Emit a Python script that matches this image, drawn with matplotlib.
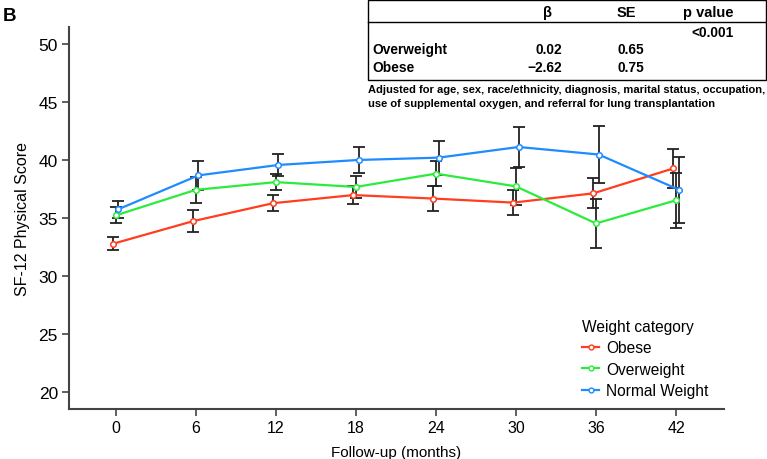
import matplotlib

matplotlib.use("Agg")
import matplotlib.pyplot as plt
from matplotlib.lines import Line2D
from matplotlib.patches import Rectangle
import numpy as np

plt.rcParams["font.family"] = ["Liberation Sans", "DejaVu Sans"]

# follow-up visits (months)
months = np.array([0, 6, 12, 18, 24, 30, 36, 42])

# mean SF-12 physical score and error half-widths per weight group
obese = [32.8, 34.75, 36.3, 37.0, 36.7, 36.35, 37.15, 39.3]
obese_err = [0.58, 0.92, 0.68, 0.8, 1.07, 1.06, 1.3, 1.67]
overweight = [35.25, 37.45, 38.12, 37.7, 38.85, 37.75, 34.55, 36.55]
overweight_err = [0.7, 1.1, 0.68, 0.98, 1.08, 1.62, 2.13, 2.35]
normal = [35.78, 38.7, 39.6, 40.03, 40.23, 41.15, 40.5, 37.47]
normal_err = [0.75, 1.27, 0.94, 1.15, 1.47, 1.75, 2.5, 2.85]

series = [
    ("Obese", obese, obese_err, "#FF3D1F", -0.2),
    ("Overweight", overweight, overweight_err, "#2BEB3C", 0.0),
    ("Normal Weight", normal, normal_err, "#1E8BFF", 0.2),
]

# regression table
table_rows = ["Overweight", "Obese"]
table_beta = ["0.02", "\u22122.62"]
table_se = ["0.65", "0.75"]
table_p = "<0.001"
footnote = ("Adjusted for age, sex, race/ethnicity, diagnosis, marital status, occupation,\n"
            "use of supplemental oxygen, and referral for lung transplantation")

fig = plt.figure(figsize=(7.67, 4.6), dpi=100)
ax = fig.add_axes([0.09, 0.109, 0.854, 0.83])

for name, vals, err, color, dx in series:
    ax.errorbar(months + dx, vals, yerr=err, fmt="none", ecolor="#222222",
                elinewidth=1.3, capsize=4.6, capthick=1.3, zorder=2)
for name, vals, err, color, dx in series:
    ax.plot(months + dx, vals, color=color, lw=1.6, marker="o", ms=4,
            mfc="white", mec=color, mew=1.1, zorder=3)

ax.set_xlim(-3.5, 45.6)
ax.set_ylim(18.55, 51.5)
ax.set_xticks(months)
ax.set_yticks([20, 25, 30, 35, 40, 45, 50])
ax.tick_params(length=5, width=1.2, color="#444444")
ax.tick_params(axis="x", labelsize=11.5, pad=3)
ax.tick_params(axis="y", labelsize=12.5, pad=3)
for s in ["top", "right"]:
    ax.spines[s].set_visible(False)
for s in ["left", "bottom"]:
    ax.spines[s].set_linewidth(1.5)
    ax.spines[s].set_color("#444444")
ax.set_xlabel("Follow-up (months)", fontsize=11, labelpad=7.5)
ax.set_ylabel("SF-12 Physical Score", fontsize=11.5, labelpad=6)

handles = [Line2D([], [], color=c, lw=1.6, marker="o", ms=3.5, mfc="white", mec=c)
           for _, _, _, c, _ in series]
leg = ax.legend(handles, [s[0] for s in series], title="Weight category",
                loc="upper left", bbox_to_anchor=(0.749, 0.322), bbox_transform=fig.transFigure,
                frameon=False, fontsize=11.2, title_fontsize=11.2, handlelength=1.1,
                handletextpad=0.45, labelspacing=0.42, alignment="left", borderpad=0)

fig.text(0.003, 0.964, "B", fontsize=13.5, fontweight="bold", va="center")

# table box
W, H = 767, 460
def fx(px):
    return px / W
def fy(py):
    return 1 - py / H

fig.patches.append(Rectangle((fx(368), fy(81)), fx(766) - fx(368), fy(1) - fy(81),
                             transform=fig.transFigure, fill=False, lw=1.0, ec="black"))
fig.add_artist(Line2D([fx(368), fx(766)], [fy(23), fy(23)], transform=fig.transFigure,
                      color="black", lw=1.0))
hk = dict(fontsize=10.5, fontweight="bold", va="center")
tk = dict(fontsize=9.9, fontweight="bold", va="center")
fig.text(fx(547), fy(13), "\u03b2", ha="center", **hk)
fig.text(fx(626), fy(13), "SE", ha="center", **hk)
fig.text(fx(708), fy(13), "p value", ha="center", **hk)
fig.text(fx(712), fy(33), table_p, ha="center", **tk)
for i, (r, b, se) in enumerate(zip(table_rows, table_beta, table_se)):
    y = fy(50 + 18 * i)
    fig.text(fx(372), y, r, ha="left", **tk)
    fig.text(fx(562), y, b, ha="right", **tk)
    fig.text(fx(644), y, se, ha="right", **tk)
fig.text(fx(368), fy(97), footnote, fontsize=8, fontweight="bold", ha="left",
         va="center", linespacing=1.4)

fig.savefig("out.png", dpi=100)
